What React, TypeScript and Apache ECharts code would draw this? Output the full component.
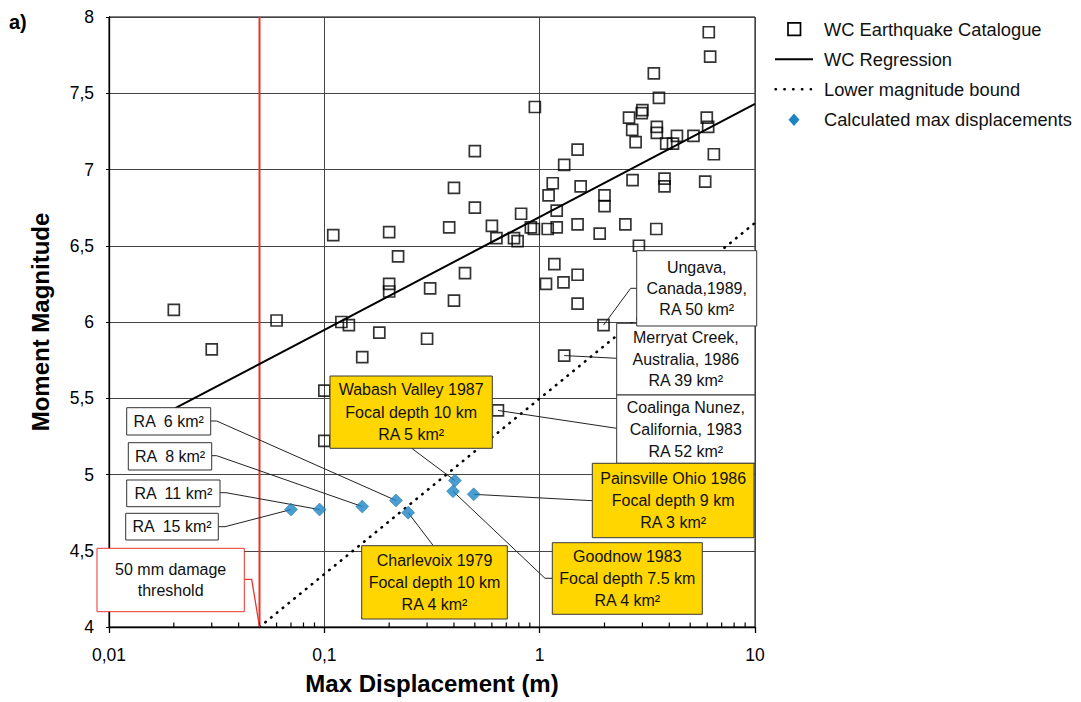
import { useEffect, useRef } from "react";
import * as echarts from "echarts";

// ---------------- data ----------------
const X_MIN = 0.01;
const X_MAX = 10;
const Y_MIN = 4;
const Y_MAX = 8;
const Y_STEP = 0.5;

const ungava: [number, number] = [1.98, 5.98];
const merryat: [number, number] = [1.3, 5.78];
const coalinga: [number, number] = [0.64, 5.42];

const catalogue: [number, number][] = [
  [0.11, 6.57], [0.2, 6.59], [0.22, 6.43], [0.2, 6.25], [0.2, 6.2], [0.31, 6.22],
  [0.02, 6.08], [0.06, 6.01], [0.12, 6.0], [0.13, 5.98], [0.18, 5.93], [0.3, 5.89],
  [0.03, 5.82], [0.15, 5.77], [0.1, 5.55], [0.1, 5.22],
  [6.1, 7.9], [6.19, 7.74], [3.39, 7.63], [3.58, 7.47], [0.95, 7.41], [3.0, 7.39],
  [2.98, 7.37], [2.6, 7.34], [5.97, 7.34], [6.06, 7.28], [2.69, 7.26], [3.5, 7.28],
  [3.5, 7.24], [4.34, 7.22], [5.18, 7.22], [2.79, 7.18], [3.87, 7.17], [4.16, 7.17],
  [6.44, 7.1], [0.5, 7.12], [1.5, 7.13], [1.3, 7.03], [0.4, 6.88], [2.7, 6.93],
  [3.8, 6.94], [3.8, 6.89], [5.87, 6.92], [1.15, 6.91], [1.1, 6.83], [1.55, 6.89],
  [0.5, 6.75], [2.0, 6.83], [2.0, 6.76], [1.2, 6.73], [0.82, 6.71], [0.38, 6.62],
  [0.6, 6.63], [0.91, 6.62], [0.94, 6.61], [1.09, 6.61], [1.2, 6.62], [1.5, 6.64],
  [1.9, 6.58], [2.5, 6.64], [3.48, 6.61], [0.63, 6.55], [0.76, 6.55], [0.79, 6.53],
  [2.89, 6.5], [0.45, 6.32], [0.4, 6.14], [1.17, 6.38], [1.07, 6.25], [1.29, 6.26],
  [1.5, 6.31], [1.5, 6.12], ungava, merryat, coalinga,
];

const regression: [number, number][] = [[0.02, 5.43], [10, 7.43]];
const lowerBound: [number, number][] = [[0.05, 4.0], [10, 6.65]];
const damageThreshold: [number, number][] = [[0.05, 4], [0.05, 8]];

const ra15: [number, number] = [0.07, 4.77];
const ra11: [number, number] = [0.095, 4.77];
const ra8: [number, number] = [0.15, 4.79];
const ra6: [number, number] = [0.215, 4.83];
const charlevoix: [number, number] = [0.245, 4.75];
const wabash: [number, number] = [0.404, 4.96];
const goodnow: [number, number] = [0.396, 4.89];
const painsville: [number, number] = [0.494, 4.87];
const calculated: [number, number][] = [ra15, ra11, ra8, ra6, charlevoix, wabash, goodnow, painsville];

const LEGEND_NAMES = [
  "WC Earthquake Catalogue",
  "WC Regression",
  "Lower magnitude bound",
  "Calculated max displacements",
];

// ---------------- layout of annotations (pixels) ----------------
type Ann = {
  lines: string[];
  target: [number, number];
  box: [number, number, number, number];
  lh: number;
  path: [number, number][];
  kind: "white" | "yellow" | "red";
};

const annotations: Ann[] = [
  { lines: ["Merryat Creek,", "Australia, 1986", "RA 39 km²"], target: merryat, box: [616.7, 323.3, 138.3, 71.7], lh: 21.7, path: [[616.7, 358.3]], kind: "white" },
  { lines: ["Ungava,", "Canada,1989,", "RA 50 km²"], target: ungava, box: [636.7, 250.7, 120, 75.3], lh: 21.2, path: [[636.7, 288.3], [630.7, 288.3]], kind: "white" },
  { lines: ["Coalinga Nunez,", "California, 1983", "RA 52 km²"], target: coalinga, box: [616.7, 395, 138.3, 68.3], lh: 22, path: [[616.7, 428.3]], kind: "white" },
  { lines: ["Wabash Valley 1987", "Focal depth 10 km", "RA 5 km²"], target: wabash, box: [330, 376, 162.3, 72.3], lh: 22.5, path: [[411.7, 448.3]], kind: "yellow" },
  { lines: ["Painsville Ohio 1986", "Focal depth 9 km", "RA 3 km²"], target: painsville, box: [592.3, 463.3, 161.7, 74.4], lh: 22, path: [[592.3, 500.7]], kind: "yellow" },
  { lines: ["Goodnow 1983", "Focal depth 7.5 km", "RA 4 km²"], target: goodnow, box: [552.3, 542.7, 150, 71.6], lh: 22.2, path: [[552.3, 578.3], [545, 578.3]], kind: "yellow" },
  { lines: ["Charlevoix 1979", "Focal depth 10 km", "RA 4 km²"], target: charlevoix, box: [361.7, 545.7, 145.6, 73.3], lh: 22.2, path: [[433.3, 545.7]], kind: "yellow" },
  { lines: ["RA \u00a06 km²"], target: ra6, box: [126.7, 407.7, 84, 27.3], lh: 20, path: [[210.7, 421], [216.7, 421]], kind: "white" },
  { lines: ["RA \u00a08 km²"], target: ra8, box: [128.3, 442.7, 83.4, 27.3], lh: 20, path: [[211.7, 455.7], [216.7, 455.7]], kind: "white" },
  { lines: ["RA \u00a011 km²"], target: ra11, box: [126.7, 480, 93.3, 26.7], lh: 20, path: [[220, 492.7], [226, 492.7]], kind: "white" },
  { lines: ["RA \u00a015 km²"], target: ra15, box: [125.7, 513.3, 92.6, 26.7], lh: 20, path: [[218.3, 526.7], [225, 526.7]], kind: "white" },
  { lines: ["50 mm damage", "threshold"], target: damageThreshold[0], box: [97, 548.3, 147.3, 63.4], lh: 21, path: [[244.3, 579.3], [251.7, 579.3]], kind: "red" },
];

const FONT = '"Liberation Sans", Arial, Helvetica, sans-serif';
const fmt = (v: number) => String(Number(Number(v).toPrecision(6))).replace(".", ",");

export default function App() {
  const ref = useRef<HTMLDivElement>(null);

  useEffect(() => {
    if (!ref.current) return;
    const chart = echarts.init(ref.current, null, { renderer: "svg" });

    chart.setOption({
      animation: false,
      backgroundColor: "#ffffff",
      textStyle: { fontFamily: FONT, color: "#000" },
      grid: {
        left: 109,
        right: 326,
        top: 17,
        bottom: 75,
        show: true,
        borderColor: "#000",
        borderWidth: 1,
        backgroundColor: "transparent",
      },
      xAxis: {
        type: "log",
        logBase: 10,
        min: X_MIN,
        max: X_MAX,
        name: "Max Displacement (m)",
        nameLocation: "middle",
        nameGap: 44,
        nameTextStyle: { fontSize: 24, fontWeight: "bold", color: "#000", fontFamily: FONT },
        axisLine: { lineStyle: { color: "#000", width: 1.3 } },
        axisTick: { show: true, inside: false, length: 6, lineStyle: { color: "#000", width: 1.3 } },
        axisLabel: { formatter: fmt, fontSize: 17.5, color: "#000", margin: 19, fontFamily: FONT },
        splitLine: { show: true, lineStyle: { color: "#444", width: 1 } },
      },
      yAxis: {
        type: "value",
        min: Y_MIN,
        max: Y_MAX,
        interval: Y_STEP,
        name: "Moment Magnitude",
        nameLocation: "middle",
        nameGap: 57,
        nameTextStyle: { fontSize: 24, fontWeight: "bold", color: "#000", fontFamily: FONT },
        axisLine: { show: true, lineStyle: { color: "#000", width: 1.3 } },
        axisTick: { show: true, inside: false, length: 3, lineStyle: { color: "#000" } },
        axisLabel: { formatter: fmt, fontSize: 17.5, color: "#000", margin: 15, fontFamily: FONT },
        splitLine: { show: true, lineStyle: { color: "#444", width: 1 } },
      },
      series: [
        {
          name: "50 mm damage threshold",
          type: "line",
          data: damageThreshold,
          symbol: "none",
          lineStyle: { color: "#e8352c", width: 2 },
          z: 2,
        },
        {
          name: LEGEND_NAMES[1],
          type: "line",
          data: regression,
          symbol: "none",
          lineStyle: { color: "#000", width: 2 },
          z: 3,
        },
        {
          name: LEGEND_NAMES[2],
          type: "line",
          data: lowerBound,
          symbol: "none",
          lineStyle: { color: "#000", width: 2.6, type: [0.5, 7], cap: "round" },
          z: 3,
        },
        {
          name: LEGEND_NAMES[0],
          type: "scatter",
          data: catalogue,
          symbol: "rect",
          symbolSize: 11,
          itemStyle: { color: "rgba(255,255,255,0)", borderColor: "#000", borderWidth: 1.7 },
          z: 4,
        },
        {
          name: LEGEND_NAMES[3],
          type: "scatter",
          data: calculated,
          symbol: "diamond",
          symbolSize: 13,
          itemStyle: { color: "#1c84c6", borderColor: "#176fa8", borderWidth: 0.6 },
          z: 6,
        },
      ],
    });

    const px = (p: [number, number]) => chart.convertToPixel({ gridIndex: 0 }, p) as number[];

    const elements: any[] = [];

    // minor ticks on log axis (inside)
    const bottom = px([X_MIN, Y_MIN])[1];
    for (let d = X_MIN; d < X_MAX * 0.99; d *= 10) {
      for (let k = 2; k <= 9; k++) {
        const x = px([k * d, Y_MIN])[0];
        elements.push({
          type: "line",
          shape: { x1: x, y1: bottom, x2: x, y2: bottom - 4.5 },
          style: { stroke: "#000", lineWidth: 1.2 },
          z: 5,
        });
      }
    }

    // annotations
    annotations.forEach((a, i) => {
      const t = px(a.target);
      const pts = [...a.path, [t[0], t[1]]];
      const lineColor = a.kind === "red" ? "#e8352c" : "#222";
      elements.push({
        type: "polyline",
        shape: { points: pts },
        style: { stroke: lineColor, lineWidth: a.kind === "red" ? 1.3 : 1, fill: "none" },
        z: 5,
      });
      const [bx, by, bw, bh] = a.box;
      elements.push({
        type: "rect",
        shape: { x: bx, y: by, width: bw, height: bh },
        style: {
          fill: a.kind === "yellow" ? "#ffd600" : "#ffffff",
          stroke: a.kind === "red" ? "#e8352c" : a.kind === "yellow" ? "#3a3a3a" : "#333",
          lineWidth: 1,
        },
        z: 20 + i * 2,
      });
      elements.push({
        type: "text",
        x: bx + bw / 2,
        y: by + bh / 2,
        style: {
          text: a.lines.join("\n"),
          fill: "#111",
          fontSize: 16,
          fontFamily: FONT,
          lineHeight: a.lh,
          align: "center",
          verticalAlign: "middle",
          textAlign: "center",
          textVerticalAlign: "middle",
        },
        z: 21 + i * 2,
      });
    });

    // legend
    const legendY = [29, 59.3, 89.3, 119.7];
    elements.push({
      type: "rect",
      shape: { x: 788, y: 22.8, width: 12.5, height: 12.5 },
      style: { fill: "none", stroke: "#000", lineWidth: 1.7 },
    });
    elements.push({
      type: "line",
      shape: { x1: 775, y1: legendY[1], x2: 813, y2: legendY[1] },
      style: { stroke: "#000", lineWidth: 2 },
    });
    elements.push({
      type: "line",
      shape: { x1: 775.5, y1: legendY[2], x2: 811, y2: legendY[2] },
      style: { stroke: "#000", lineWidth: 2.4, lineDash: [0.5, 8.3], lineCap: "round" },
    });
    elements.push({
      type: "polygon",
      shape: { points: [[794, legendY[3] - 6.3], [799.5, legendY[3]], [794, legendY[3] + 6.3], [788.5, legendY[3]]] },
      style: { fill: "#1c84c6" },
    });
    LEGEND_NAMES.forEach((n, i) => {
      elements.push({
        type: "text",
        x: 824,
        y: legendY[i],
        style: {
          text: n,
          fill: "#111",
          fontSize: 18.3,
          fontFamily: FONT,
          align: "left",
          verticalAlign: "middle",
          textAlign: "left",
          textVerticalAlign: "middle",
        },
      });
    });

    // panel label
    elements.push({
      type: "text",
      x: 9,
      y: 22,
      style: {
        text: "a)",
        fill: "#000",
        fontSize: 20,
        fontWeight: "bold",
        fontFamily: FONT,
        align: "left",
        verticalAlign: "middle",
        textAlign: "left",
        textVerticalAlign: "middle",
      },
    });

    chart.setOption({ graphic: { elements } });

    return () => chart.dispose();
  }, []);

  return (
    <div
      ref={ref}
      style={{ position: "fixed", left: 0, top: 0, width: 1081, height: 702, background: "#fff" }}
    />
  );
}
